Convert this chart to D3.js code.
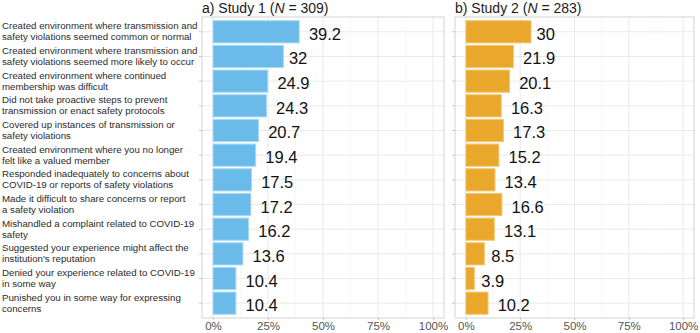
<!DOCTYPE html>
<html>
<head>
<meta charset="utf-8">
<script src="https://cdn.jsdelivr.net/npm/d3@7"></script>
<style>
  body { margin: 0; background: #fff; }
  svg { display: block; font-family: "Liberation Sans", Arial, sans-serif; }
</style>
</head>
<body>
<div id="chart"></div>
<script>
// Reported behaviours, top to bottom (each split over two lines)
const behaviours = [
  ["Created environment where transmission and", "safety violations seemed common or normal"],
  ["Created environment where transmission and", "safety violations seemed more likely to occur"],
  ["Created environment where continued", "membership was difficult"],
  ["Did not take proactive steps to prevent", "transmission or enact safety protocols"],
  ["Covered up instances of transmission or", "safety violations"],
  ["Created environment where you no longer", "felt like a valued member"],
  ["Responded inadequately to concerns about", "COVID-19 or reports of safety violations"],
  ["Made it difficult to share concerns or report", "a safety violation"],
  ["Mishandled a complaint related to COVID-19", "safety"],
  ["Suggested your experience might affect the", "institution's reputation"],
  ["Denied your experience related to COVID-19", "in some way"],
  ["Punished you in some way for expressing", "concerns"]
];

const study1 = [39.2, 32, 24.9, 24.3, 20.7, 19.4, 17.5, 17.2, 16.2, 13.6, 10.4, 10.4];
const study2 = [30, 21.9, 20.1, 16.3, 17.3, 15.2, 13.4, 16.6, 13.1, 8.5, 3.9, 10.2];

const percentTicks = [0, 25, 50, 75, 100];
const minorTicks = [12.5, 37.5, 62.5, 87.5];

const width = 700;
const height = 333;
const panelTop = 17;
const panelBottom = 318;

const panels = [
  { study: "1", n: 309, values: study1, left: 202, right: 444, fill: "#6bbbea", edge: "#a9d9f4" },
  { study: "2", n: 283, values: study2, left: 455, right: 694, fill: "#e9a82b", edge: "#f3c874" }
];

const svg = d3.select("#chart")
  .append("svg")
  .attr("width", width)
  .attr("height", height);

const keys = behaviours.map((d, i) => i);

const yScale = d3.scaleBand()
  .domain(keys)
  .range([panelTop, panelBottom])
  .paddingInner(0.1)
  .paddingOuter(0.15);

const rowCenter = i => yScale(i) + yScale.bandwidth() / 2;

// Category labels on the left
const labels = svg.append("g")
  .selectAll("text")
  .data(behaviours)
  .join("text")
  .attr("x", 2)
  .attr("y", (d, i) => rowCenter(i) - 2.5)
  .style("font-size", "9.7px")
  .attr("fill", "#2b2b2b");

labels.selectAll("tspan")
  .data(d => d)
  .join("tspan")
  .attr("x", 2)
  .attr("dy", (d, j) => j === 0 ? 0 : 11)
  .text(d => d);

panels.forEach((p, k) => {
  const xScale = d3.scaleLinear()
    .domain([-5, 105])
    .range([p.left, p.right]);

  const g = svg.append("g");

  // minor + major vertical gridlines
  g.selectAll(".minor")
    .data(minorTicks)
    .join("line")
    .attr("x1", d => xScale(d))
    .attr("x2", d => xScale(d))
    .attr("y1", panelTop)
    .attr("y2", panelBottom)
    .attr("stroke", "#f3f3f3")
    .attr("stroke-width", 0.6);

  g.selectAll(".major")
    .data(percentTicks)
    .join("line")
    .attr("x1", d => xScale(d))
    .attr("x2", d => xScale(d))
    .attr("y1", panelTop)
    .attr("y2", panelBottom)
    .attr("stroke", "#e9e9e9")
    .attr("stroke-width", 1);

  // horizontal gridlines through each row
  g.selectAll(".hgrid")
    .data(keys)
    .join("line")
    .attr("x1", p.left)
    .attr("x2", p.right)
    .attr("y1", d => rowCenter(d))
    .attr("y2", d => rowCenter(d))
    .attr("stroke", "#e9e9e9")
    .attr("stroke-width", 1);

  // bars
  g.selectAll("rect.bar")
    .data(p.values)
    .join("rect")
    .attr("class", "bar")
    .attr("x", xScale(0))
    .attr("y", (d, i) => yScale(i))
    .attr("width", d => xScale(d) - xScale(0))
    .attr("height", yScale.bandwidth())
    .attr("fill", p.fill)
    .attr("stroke", p.edge)
    .attr("stroke-width", 1);

  // value labels to the right of each bar
  g.selectAll("text.value")
    .data(p.values)
    .join("text")
    .attr("class", "value")
    .attr("y", (d, i) => rowCenter(i) + 8)
    .style("font-size", "16.5px")
    .attr("fill", "#111")
    .text(d => d)
    .attr("x", function (d) {
      return xScale(d) + 0.3 * this.getComputedTextLength();
    });

  // panel border
  g.append("rect")
    .attr("x", p.left)
    .attr("y", panelTop)
    .attr("width", p.right - p.left)
    .attr("height", panelBottom - panelTop)
    .attr("fill", "none")
    .attr("stroke", "#d4d4d4")
    .attr("stroke-width", 1);

  // y ticks
  g.selectAll(".ytick")
    .data(keys)
    .join("line")
    .attr("x1", p.left - 3)
    .attr("x2", p.left)
    .attr("y1", d => rowCenter(d))
    .attr("y2", d => rowCenter(d))
    .attr("stroke", "#c8c8c8");

  // x axis
  const xAxis = g.append("g")
    .attr("transform", `translate(0,${panelBottom})`)
    .call(d3.axisBottom(xScale)
      .tickValues(percentTicks)
      .tickFormat(d => d + "%")
      .tickSize(2)
      .tickPadding(1.5));
  xAxis.select(".domain").remove();
  xAxis.selectAll("line").attr("stroke", "#c8c8c8");
  xAxis.selectAll("text")
    .attr("fill", "#555")
    .style("font-size", "11.5px")
    .style("font-family", "'Liberation Sans', Arial, sans-serif");

  // panel title
  const title = svg.append("text")
    .attr("x", p.left)
    .attr("y", 12.5)
    .style("font-size", "14px")
    .attr("fill", "#1a1a1a");
  title.append("tspan").text(String.fromCharCode(97 + k) + ") Study " + p.study + " (");
  title.append("tspan").style("font-style", "italic").text("N");
  title.append("tspan").text(" = " + p.n + ")");
});
</script>
</body>
</html>
